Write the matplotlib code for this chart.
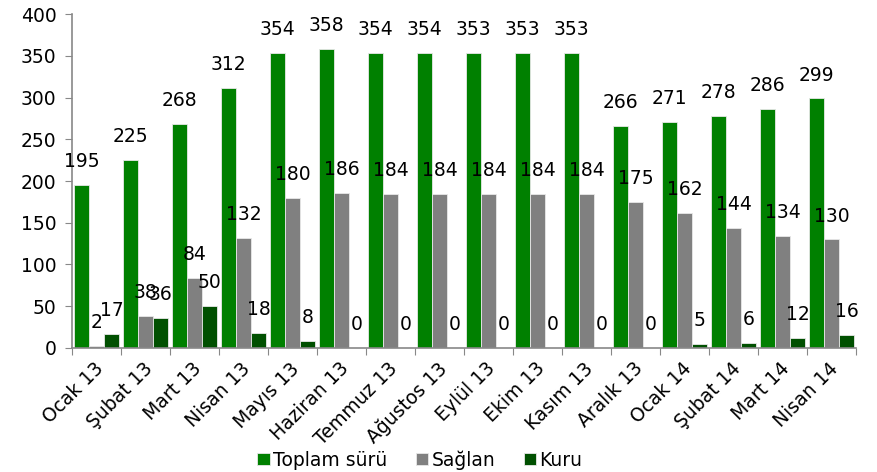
import numpy as np
import matplotlib
matplotlib.use("Agg")
from matplotlib import pyplot as plt

months = ["Ocak 13", "Şubat 13", "Mart 13", "Nisan 13", "Mayıs 13", "Haziran 13",
          "Temmuz 13", "Ağustos 13", "Eylül 13", "Ekim 13", "Kasım 13", "Aralık 13",
          "Ocak 14", "Şubat 14", "Mart 14", "Nisan 14"]
toplam = [195, 225, 268, 312, 354, 358, 354, 354, 353, 353, 353, 266, 271, 278, 286, 299]
saglan = [2, 38, 84, 132, 180, 186, 184, 184, 184, 184, 184, 175, 162, 144, 134, 130]
kuru = [17, 36, 50, 18, 8, 0, 0, 0, 0, 0, 0, 0, 5, 6, 12, 16]

series = [("Toplam sürü", toplam, "#008000"),
          ("Sağlan", saglan, "#808080"),
          ("Kuru", kuru, "#005000")]

plt.rcParams["font.family"] = ["DejaVu Sans"]
fs = 13.5

fig = plt.figure(figsize=(8.77, 4.72), dpi=100)
ax = fig.add_axes([0.082, 0.263, 0.894, 0.707])

x = np.arange(len(months))
w = 0.306
for i, (name, vals, color) in enumerate(series):
    pos = x + (i - 1) * w
    ax.bar(pos, vals, width=w, color=color, edgecolor="#e8e8e8", linewidth=0.6, label=name)
    for px, v in zip(pos, vals):
        ax.annotate(str(v), (px, v), xytext=(0, 10), textcoords="offset points",
                    ha="center", va="bottom", fontsize=fs, color="black")

ax.set_xlim(-0.5, len(months) - 0.5)
ax.set_ylim(0, 400)
ax.set_yticks(range(0, 401, 50))
ax.tick_params(axis="y", labelsize=fs, colors="#888888", labelcolor="black", length=5, pad=6)

# category boundaries carry the tick marks, centres carry the labels
ax.set_xticks(np.arange(len(months) + 1) - 0.5)
ax.set_xticklabels([])
ax.tick_params(axis="x", colors="#888888", length=5)
ax.set_xticks(x - 0.05, minor=True)
ax.set_xticklabels(months, minor=True, rotation=45, ha="right", rotation_mode="anchor",
                   fontsize=fs, color="black")
ax.tick_params(axis="x", which="minor", length=0, pad=8)

for s in ["top", "right"]:
    ax.spines[s].set_visible(False)
for s in ["left", "bottom"]:
    ax.spines[s].set_color("#888888")
    ax.spines[s].set_linewidth(1.2)

fig.legend(loc="center", bbox_to_anchor=(420 / 877, 1 - 460 / 472), ncol=3, frameon=False,
           fontsize=fs, handlelength=0.65, handleheight=0.65, handletextpad=0.2,
           columnspacing=1.5, borderpad=0)

fig.savefig("out.png", dpi=100)
